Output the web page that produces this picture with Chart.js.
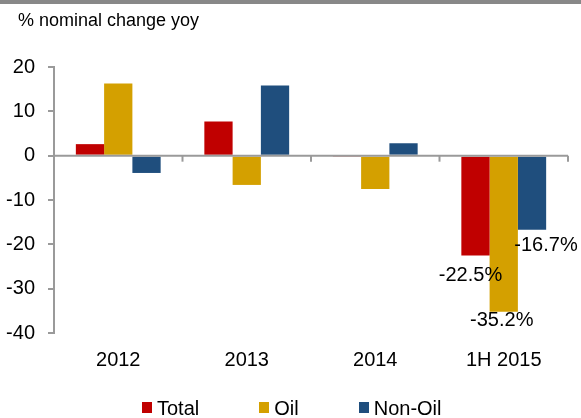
<!DOCTYPE html>
<html>
<head>
<meta charset="utf-8">
<script src="https://cdn.jsdelivr.net/npm/chart.js@4.4.1/dist/chart.umd.min.js"></script>
<style>
  html, body { margin: 0; padding: 0; background: #fff; }
  #wrap { position: relative; width: 581px; height: 418px; overflow: hidden; font-family: "Liberation Sans", Arial, sans-serif; }
  #band { position: absolute; left: 0; top: 0; width: 581px; height: 4px; background: #888; }
  #title { position: absolute; left: 18px; top: 11px; font-size: 18px; line-height: 18px; color: #000; white-space: nowrap; }
  #chart { position: absolute; left: 0; top: 0; }
  #legend { position: absolute; left: 142px; top: 398px; display: flex; gap: 60px; font-size: 20px; line-height: 20px; color: #000; }
  .li { display: flex; align-items: center; white-space: nowrap; }
  .sw { width: 10px; height: 11px; margin-right: 5px; position: relative; top: -1px; }
</style>
</head>
<body>
<div id="wrap">
  <canvas id="chart" width="581" height="418"></canvas>
  <div id="band"></div>
  <div id="title">% nominal change yoy</div>
  <div id="legend"></div>
</div>
<script>
const categories = ["2012", "2013", "2014", "1H 2015"];
const seriesNames = ["Total", "Oil", "Non-Oil"];
const totalValues = [2.6, 7.7, -0.3, -22.5];
const oilValues = [16.3, -6.6, -7.5, -35.2];
const nonOilValues = [-3.9, 15.8, 2.8, -16.7];
const seriesColors = ["#C00000", "#D4A000", "#1F4E7D"];
const yTicks = [20, 10, 0, -10, -20, -30, -40];
const labelledCategory = "1H 2015";

const FONT = '"Liberation Sans", Arial, sans-serif';
const AXIS = "#9a9a9a";

const seriesValues = [totalValues, oilValues, nonOilValues];
const datasets = seriesNames.map((name, i) => ({
  label: name,
  data: seriesValues[i],
  backgroundColor: seriesColors[i],
  borderWidth: 0,
  barPercentage: 1.0,
  categoryPercentage: 0.66
}));

// zero line with category tick marks, drawn from the scales
const zeroAxisPlugin = {
  id: "zeroAxis",
  afterDatasetsDraw(chart) {
    const { ctx, scales: { x, y }, chartArea } = chart;
    const y0 = y.getPixelForValue(0);
    ctx.save();
    ctx.strokeStyle = AXIS;
    ctx.lineWidth = 2;
    ctx.beginPath();
    ctx.moveTo(chartArea.left, y0);
    ctx.lineTo(chartArea.right, y0);
    ctx.stroke();
    const n = categories.length;
    for (let i = 0; i <= n; i++) {
      let px;
      if (i === 0) px = chartArea.left;
      else if (i === n) px = chartArea.right;
      else px = (x.getPixelForValue(i - 1) + x.getPixelForValue(i)) / 2;
      ctx.beginPath();
      ctx.moveTo(px, y0);
      ctx.lineTo(px, y0 + 6);
      ctx.stroke();
    }
    ctx.restore();
  }
};

// value labels for the last category
const labelOffsets = [[-5, 20], [-2, 9], [14, 16]];
const valueLabelPlugin = {
  id: "valueLabels",
  afterDraw(chart) {
    const { ctx } = chart;
    const idx = categories.indexOf(labelledCategory);
    ctx.save();
    ctx.font = "20px " + FONT;
    ctx.fillStyle = "#000";
    ctx.textAlign = "center";
    ctx.textBaseline = "middle";
    chart.data.datasets.forEach((ds, di) => {
      const el = chart.getDatasetMeta(di).data[idx];
      const v = ds.data[idx];
      const off = labelOffsets[di];
      ctx.fillText(v.toFixed(1) + "%", el.x + off[0], el.y + off[1]);
    });
    ctx.restore();
  }
};

const chart = new Chart(document.getElementById("chart"), {
  type: "bar",
  data: { labels: categories, datasets },
  options: {
    responsive: false,
    animation: false,
    events: [],
    layout: { padding: { left: 0, right: 13, top: 67, bottom: 45 } },
    plugins: {
      legend: { display: false },
      tooltip: { enabled: false },
      title: { display: false }
    },
    scales: {
      x: {
        grid: { display: false, drawTicks: false },
        border: { display: false },
        ticks: { color: "#000", font: { family: FONT, size: 20 }, padding: 15, maxRotation: 0 },
        afterFit: s => { s.height = 40; }
      },
      y: {
        min: -40, max: 20,
        afterBuildTicks: s => { s.ticks = yTicks.map(v => ({ value: v })); },
        grid: { drawOnChartArea: false, drawTicks: true, tickLength: 6, color: AXIS, lineWidth: 2 },
        border: { display: true, color: AXIS, width: 2 },
        ticks: { color: "#000", font: { family: FONT, size: 20 }, padding: 13 },
        afterFit: s => { s.width = 54; }
      }
    }
  },
  plugins: [zeroAxisPlugin, valueLabelPlugin]
});

const legend = document.getElementById("legend");
chart.data.datasets.forEach(ds => {
  const item = document.createElement("div");
  item.className = "li";
  const sw = document.createElement("span");
  sw.className = "sw";
  sw.style.background = ds.backgroundColor;
  const tx = document.createElement("span");
  tx.textContent = ds.label;
  item.appendChild(sw);
  item.appendChild(tx);
  legend.appendChild(item);
});
</script>
</body>
</html>
